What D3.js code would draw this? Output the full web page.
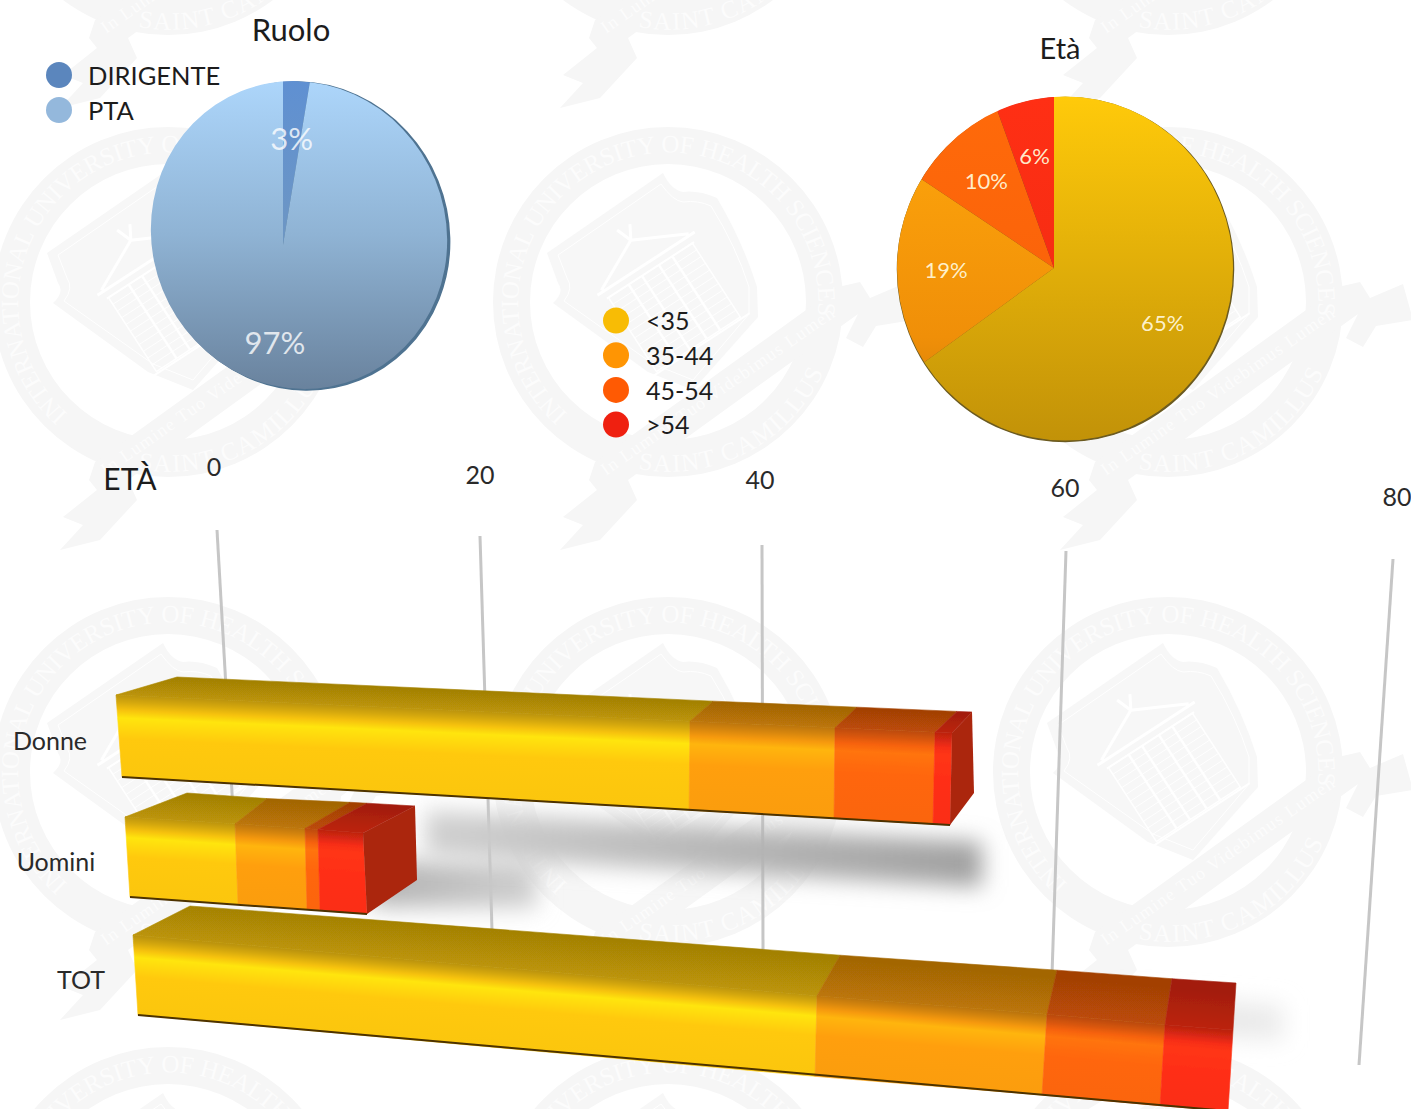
<!DOCTYPE html>
<html><head><meta charset="utf-8">
<script src="https://cdn.jsdelivr.net/npm/d3@7"></script>
<style>
html,body{margin:0;padding:0;background:#fff;overflow:hidden}
svg{display:block}
text{font-family:Lato,"Open Sans",sans-serif;fill:#1c1c1c}
</style></head><body>
<script>
// ---- data ----
const ruoloLabels = ["DIRIGENTE", "PTA"];
const ruoloValues = [2.6, 97.4];
const ageLabels = ["<35", "35-44", "45-54", ">54"];
const etaValues = [65, 19.4, 10.1, 5.5];
const barCategories = ["Donne", "Uomini", "TOT"];
const donneValues = [40, 10, 7, 1];
const uominiValues = [6, 4, 1, 3];
const totValues = [46, 14, 8, 4];
const axisTicks = [0, 20, 40, 60, 80];

// ---- style ----
const ruoloLegendColors = ["#5b86bd", "#94b8dc"];
const ageLegendColors = ["#f8bc05", "#ff9503", "#ff5a03", "#ef2010"];
const ageBarColors = ["#ffc90a", "#ff9f0a", "#ff660a", "#ff2f16"];

const W = 1411, H = 1109;
const svg = d3.select("body").append("svg").attr("width", W).attr("height", H);
const defs = svg.append("defs");

function vGrad(id, x1, y1, x2, y2, stops) {
  const g = defs.append("linearGradient").attr("id", id).attr("gradientUnits", "userSpaceOnUse")
    .attr("x1", x1).attr("y1", y1).attr("x2", x2).attr("y2", y2);
  stops.forEach(s => g.append("stop").attr("offset", s[0]).attr("stop-color", s[1]));
  return `url(#${id})`;
}
const blur = (id, s) => defs.append("filter").attr("id", id)
  .attr("x", "-30%").attr("y", "-100%").attr("width", "160%").attr("height", "300%")
  .append("feGaussianBlur").attr("stdDeviation", s);
blur("soft", 0.6); blur("shB", 11); blur("shC", 11); blur("gridSoft", 0.4);

// ---- watermark ----
const WM = "#f6f6f6";
const mark = defs.append("g").attr("id", "mark");
mark.append("path").attr("fill", "#f7f7f7")
  .attr("d", "M-121,-49 L-5,-129 Q3,-112 15,-110 Q30,-112 49,-104 Q75,-60 89,-15 L90,15 L25,88 L-20,70 L-115,1 Q-103,-10 -110,-19 Z");
mark.append("path").attr("fill", "none").attr("stroke", "#fff").attr("stroke-width", 1)
  .attr("d", "M-110,-47 L-7,-118 Q5,-101 15,-100 Q30,-102 43,-96 Q68,-56 81,-15 L81,12 L25,78 L-15,62 L-104,-1 Q-94,-14 -101,-24 Z");
const bld = mark.append("g").attr("transform", "translate(-23,-40) rotate(-33)").attr("stroke", "#fff").attr("fill", "none");
bld.append("path").attr("stroke-width", 3).attr("d", "M-52,0 L0,-26 L52,0 M-58,2 L58,2 M0,-26 L-6,-42 M0,-26 L8,-40");
bld.append("path").attr("stroke-width", 2).attr("d", "M-52,10 L52,10 M-60,100 L60,100");
bld.append("rect").attr("x", -50).attr("y", 10).attr("width", 100).attr("height", 88).attr("stroke-width", 1.5);
[-26, -10, 10, 26].forEach(x => bld.append("line").attr("x1", x).attr("x2", x).attr("y1", 10).attr("y2", 98).attr("stroke-width", 2.5));
d3.range(18, 98, 8).forEach(y => bld.append("line").attr("x1", -50).attr("x2", 50).attr("y1", y).attr("y2", y).attr("stroke-width", 0.8));
mark.append("path").attr("fill-rule", "evenodd").attr("fill", WM)
  .attr("d", d3.arc()({innerRadius: 138, outerRadius: 175, startAngle: 0, endAngle: 2 * Math.PI}));
mark.append("path").attr("fill", WM)
  .attr("d", "M-73,160 L170,-15 L192,-20 L202,-4 L235,-18 L245,18 L208,24 L195,45 L178,36 L190,12 L-40,178 L-31,198 L-68,238 L-108,248 L-85,223 L-105,215 L-71,188 L-79,178 Z");
defs.append("path").attr("id", "arcTop").attr("d", "M-100,112 A150,150 0 1 1 146,36");
defs.append("path").attr("id", "arcBot").attr("d", "M-30,167 A170,170 0 0 0 168,30");
defs.append("path").attr("id", "arcBand").attr("d", "M-62,174 L185,2");
const wmText = (path, str, size) => mark.append("text")
  .attr("font-size", size).style("fill", "#fcfcfc").style("font-family", '"Liberation Serif",serif')
  .append("textPath").attr("href", path).text(str);
wmText("#arcTop", "INTERNATIONAL UNIVERSITY OF HEALTH SCIENCES", 25).attr("textLength", 610);
wmText("#arcBot", "SAINT CAMILLUS", 25).attr("textLength", 225);
wmText("#arcBand", "In Lumine Tuo Videbimus Lumen", 18).attr("textLength", 280);

const wmX = [168, 668, 1168];
const wmY = [-140, 302, 772, 1222];
wmY.forEach(y => wmX.forEach(x => svg.append("use").attr("href", "#mark").attr("x", x).attr("y", y)));

// ---- pies ----
function drawPie(cfg) {
  const total = d3.sum(cfg.values);
  const arcs = d3.pie().sort(null)(cfg.values);
  const big = d3.arc().innerRadius(0).outerRadius(420);
  const g = svg.append("g");
  const clipId = cfg.id + "Clip";
  const ell = s => s.attr("cx", cfg.cx).attr("cy", cfg.cy).attr("rx", cfg.rx).attr("ry", cfg.ry)
    .attr("transform", `rotate(${cfg.rot} ${cfg.cx} ${cfg.cy})`);
  defs.append("clipPath").attr("id", clipId).append("ellipse").call(ell);
  g.append("ellipse").call(ell).attr("fill", cfg.edge).attr("stroke", cfg.edge).attr("stroke-width", 1.5)
    .attr("transform", `translate(${cfg.shift},1) rotate(${cfg.rot} ${cfg.cx} ${cfg.cy})`);
  const inner = g.append("g").attr("clip-path", `url(#${clipId})`);
  arcs.forEach((a, i) => {
    const fill = vGrad(`${cfg.id}S${i}`, 0, cfg.cy - cfg.ry - cfg.ay, 0, cfg.cy + cfg.ry - cfg.ay, cfg.stops[i]);
    inner.append("path").attr("d", big(a)).attr("transform", `translate(${cfg.ax},${cfg.ay})`).attr("fill", fill);
  });
  g.selectAll("text.v").data(arcs).join("text").attr("class", "v")
    .attr("transform", d => {
      const r = cfg.labelR[d.index];
      return `translate(${cfg.ax},${cfg.ay}) translate(${d3.arc().innerRadius(r).outerRadius(r).centroid(d)})`;
    })
    .attr("text-anchor", "middle").attr("dy", "0.35em")
    .attr("font-size", cfg.fs).style("fill", cfg.labelFill)
    .text(d => Math.round(d.value / total * 100) + "%");
}
drawPie({id: "ruolo", values: ruoloValues, cx: 299, cy: 235, rx: 147, ry: 155, rot: -22, shift: 2.5,
  ax: 283, ay: 245, labelR: [106, 98], fs: 31, labelFill: "rgba(255,255,255,.78)", edge: "#4f7391",
  stops: [[[0, "#5f90d2"], [.5, "#6d96c4"]], [[0, "#add6fb"], [.5, "#8fb3d4"], [1, "#69829d"]]]});
drawPie({id: "eta", values: etaValues, cx: 1065, cy: 268.5, rx: 168, ry: 172, rot: 0, shift: 0.5,
  ax: 1054, ay: 268, labelR: [122, 108, 110, 113], fs: 22, labelFill: "rgba(255,246,215,.95)", edge: "#6b5a20",
  stops: [[[0, "#ffca0a"], [1, "#c29208"]], [[0, "#ffa80c"], [.7, "#f08f08"], [1, "#c87a08"]],
          [[0, "#ff6a0a"], [1, "#f75d0a"]], [[0, "#ff2f14"], [1, "#ee2a12"]]]});

const title = (t, x, y, fs) => svg.append("text").attr("x", x).attr("y", y).attr("text-anchor", "middle").attr("font-size", fs).text(t);
title("Ruolo", 291, 41, 31);
title("Età", 1060, 59, 29);

// ---- legends ----
function legend(labels, colors, cx, y0, step, tx, ty, fs) {
  const sc = d3.scalePoint().domain(labels).range([y0, y0 + step * (labels.length - 1)]);
  const g = svg.append("g");
  g.selectAll("circle").data(labels).join("circle").attr("cx", cx).attr("cy", d => sc(d)).attr("r", 13)
    .attr("fill", (d, i) => colors[i]);
  g.selectAll("text").data(labels).join("text").attr("x", tx).attr("y", d => sc(d) + ty).attr("dy", "0.35em")
    .attr("font-size", fs).text(d => d);
}
legend(ruoloLabels, ruoloLegendColors, 59, 75, 35, 88, 1.5, 25.5);
legend(ageLabels, ageLegendColors, 616, 320.5, 34.7, 646, 1, 25);

// ---- axis / gridlines ----
const gridTopX = d3.scaleLinear().domain(axisTicks).range([217, 480, 762, 1066, 1393]);
const gridTopY = d3.scaleLinear().domain(axisTicks).range([530, 536, 545, 551, 559]);
const gridBotX = d3.scaleLinear().domain(axisTicks).range([233, 492, 763, 1052, 1359]);
const gridBotY = d3.scaleLinear().domain(axisTicks).range([810, 930, 950, 975, 1065]);
const tickLabX = d3.scaleLinear().domain(axisTicks).range([214, 480, 760, 1065, 1397]);
const tickLabY = d3.scaleLinear().domain(axisTicks).range([467, 475, 480, 488, 497]);

svg.append("g").attr("filter", "url(#gridSoft)").selectAll("line").data(axisTicks).join("line")
  .attr("x1", gridTopX).attr("y1", gridTopY).attr("x2", gridBotX).attr("y2", gridBotY)
  .attr("stroke", "#c6c6c6").attr("stroke-width", 3);
svg.append("g").selectAll("text").data(axisTicks).join("text")
  .attr("x", tickLabX).attr("y", tickLabY).attr("text-anchor", "middle").attr("dy", "0.35em")
  .attr("font-size", 25).style("fill", "#2a2a2a").text(d => d);
svg.append("text").attr("x", 130).attr("y", 490).attr("text-anchor", "middle").attr("font-size", 30).text("ETÀ");

// ---- 3D stacked bars ----
const rows = [
  {name: "TOT", values: totValues,
   xTop: [133, 817, 1047, 1165, 1233], xBot: [138, 815, 1042, 1160, 1228], xBack: [190, 840, 1057, 1172, 1236],
   yTop: [935, 1030], yBot: [1015, 1111], yBack: [906, 983], capDrop: 0, labelX: 81, labelY: 980,
   shade: {from: 64, lo: -106, hi: -70, reach: 55, left: "#e4e4e4", right: "#ececec", blur: "shC"}},
  {name: "Uomini", values: uominiValues,
   xTop: [125, 235, 305, 318, 363], xBot: [130, 238, 307, 320, 367], xBack: [187, 267, 350, 367, 415],
   yTop: [817, 833], yBot: [897, 914], yBack: [793, 806], capDrop: 34, labelX: 56, labelY: 862,
   shade: {from: 13, lo: -52, hi: -6, reach: 170, left: "#b2b2b2", right: "#d0d0d0", blur: "shB"}},
  {name: "Donne", values: donneValues,
   xTop: [116, 690, 835, 935, 952], xBot: [122, 689, 834, 933, 950], xBack: [177, 713, 857, 957, 972],
   yTop: [695, 733], yBot: [777, 825], yBack: [677, 712], capDrop: 32, labelX: 50, labelY: 741,
   shade: {from: 20, lo: 17, hi: 62, reach: 32, left: "#d0d0d0", right: "#a0a0a0", blur: "shB"}}
];

const shadowLayer = svg.append("g");
const barLayer = svg.append("g").attr("filter", "url(#soft)");
const shadeC = (c, k) => d3.color(c).darker(k).formatHex();
const highlight = c => { const r = d3.rgb(c); return d3.rgb(r.r, Math.min(255, r.g * 1.14), r.b).formatHex(); };

rows.forEach(row => {
  const cum = [0, ...d3.cumsum(row.values)];
  const tot = cum[cum.length - 1];
  const xT = d3.scaleLinear().domain(cum).range(row.xTop);
  const xB = d3.scaleLinear().domain(cum).range(row.xBot);
  const xK = d3.scaleLinear().domain(cum).range(row.xBack);
  const yT = d3.scaleLinear().domain([0, tot]).range(row.yTop);
  const yB = d3.scaleLinear().domain([0, tot]).range(row.yBot);
  const yK = d3.scaleLinear().domain([0, tot]).range(row.yBack);
  const line = d3.line();
  const g = barLayer.append("g");

  // gradient vector is normal to the front top edge of the bar
  const s = (row.yTop[1] - row.yTop[0]) / (row.xTop[4] - row.xTop[0]);
  const mid = tot / 2, n = Math.hypot(s, 1);
  const h = yB(mid) - yT(mid), hb = yT(mid) - yK(mid);
  const mx = xT(mid), my = yT(mid);

  row.values.forEach((v, i) => {
    const a = cum[i], b = cum[i + 1], c = ageBarColors[i], id = `${row.name}${i}`;
    const front = vGrad(id + "f", mx, my, mx - s / n * h, my + h / n, [
      [0, shadeC(c, .85)], [.08, shadeC(c, .5)], [.17, shadeC(c, .1)], [.26, highlight(c)], [.5, c], [1, shadeC(c, .04)]]);
    const top = vGrad(id + "t", mx + s / n * hb, my - hb / n, mx, my, [[0, shadeC(c, 1.25)], [1, shadeC(c, .85)]]);
    g.append("path").attr("fill", top).attr("stroke", top).attr("stroke-width", .6)
      .attr("d", line([[xT(a), yT(a)], [xK(a), yK(a)], [xK(b), yK(b)], [xT(b), yT(b)]]) + "Z");
    g.append("path").attr("fill", front).attr("stroke", front).attr("stroke-width", .6)
      .attr("d", line([[xT(a), yT(a)], [xT(b), yT(b)], [xB(b), yB(b)], [xB(a), yB(a)]]) + "Z");
  });
  // dark lower edge
  g.append("path").attr("fill", "none").attr("stroke", "#4d3200").attr("stroke-width", 2)
    .attr("d", line([[xB(0), yB(0)], [xB(tot), yB(tot)]]));
  // end cap
  if (row.capDrop) {
    g.append("path").attr("fill", "#ab2510")
      .attr("d", line([[xT(tot), yT(tot)], [xK(tot), yK(tot)], [xK(tot) + 2, yB(tot) - row.capDrop], [xB(tot), yB(tot)]]) + "Z");
  }
  // soft cast shadow
  const sh = row.shade;
  const x0 = xB(sh.from) + 20, x1 = xB(tot) + sh.reach;
  shadowLayer.append("path").attr("filter", `url(#${sh.blur})`)
    .attr("fill", vGrad(row.name + "Sh", x0, 0, x1, 0, [[0, sh.left], [1, sh.right]]))
    .attr("d", line([[x0, yB(sh.from) + sh.lo], [x1, yB(tot) + sh.lo], [x1, yB(tot) + sh.hi], [x0, yB(sh.from) + sh.hi]]) + "Z");
  // category label
  svg.append("text").attr("x", row.labelX).attr("y", row.labelY).attr("text-anchor", "middle")
    .attr("dy", "0.35em").attr("font-size", 25).style("fill", "#2a2a2a").text(row.name);
});
</script>
</body></html>
